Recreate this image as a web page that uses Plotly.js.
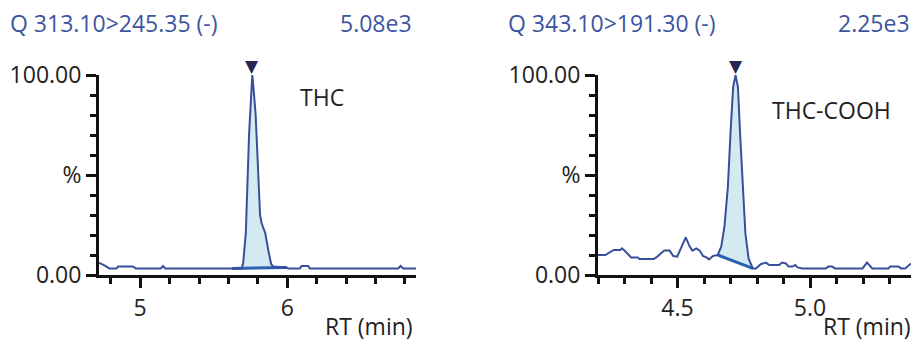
<!DOCTYPE html>
<html>
<head>
<meta charset="utf-8">
<script src="https://cdn.plot.ly/plotly-3.0.1.min.js"></script>
<style>html,body{margin:0;padding:0;background:#fff;}#chart{width:911px;height:343px;}</style>
</head>
<body>
<div id="chart"></div>
<script>
// ---- Data: THC channel (Q 313.10>245.35) ----
var thcTime = [4.72, 4.73, 4.76, 4.79, 4.84, 4.85, 4.95, 4.97, 5.14, 5.155, 5.17, 5.625, 5.69, 5.70, 5.718, 5.74, 5.752, 5.762, 5.772, 5.785, 5.80, 5.815, 5.825, 5.85, 5.872, 5.89, 5.905, 5.995, 6.006, 6.086, 6.097, 6.142, 6.153, 6.754, 6.77, 6.788, 6.89];
var thcIntensity = [6.0, 5.8, 4.7, 3.3, 3.3, 4.3, 4.3, 3.3, 3.3, 4.5, 3.3, 3.3, 3.3, 5.8, 21, 70, 91, 100, 92, 80, 55, 30, 26, 21, 12, 5.5, 4.2, 3.8, 3.3, 3.3, 4.5, 4.5, 3.3, 3.3, 4.5, 3.3, 3.3];
var thcBaseTime = [5.625, 5.995];
var thcBaseIntensity = [3.3, 3.8];
var thcApex = 5.762;

// ---- Data: THC-COOH channel (Q 343.10>191.30) ----
var coohTime = [4.2, 4.209, 4.228, 4.259, 4.284, 4.29, 4.30, 4.325, 4.35, 4.356, 4.41, 4.42, 4.44, 4.45, 4.47, 4.484, 4.499, 4.515, 4.531, 4.546, 4.556, 4.571, 4.584, 4.596, 4.609, 4.619, 4.634, 4.652, 4.665, 4.677, 4.69, 4.70, 4.71, 4.719, 4.728, 4.736, 4.746, 4.756, 4.768, 4.784, 4.796, 4.815, 4.834, 4.846, 4.884, 4.894, 4.909, 4.919, 4.934, 4.944, 4.953, 4.971, 5.059, 5.069, 5.084, 5.094, 5.198, 5.215, 5.235, 5.296, 5.303, 5.334, 5.344, 5.359, 5.381];
var coohIntensity = [10, 10, 10, 12.5, 12.5, 13.3, 12.2, 8.8, 8.8, 8, 8, 8.8, 10.8, 12.2, 12.2, 9.5, 9.2, 14.2, 18.8, 14.2, 12.2, 13.3, 12.2, 9.5, 8.8, 7.8, 9.5, 10, 14.2, 24, 44, 71, 94, 100, 94, 71, 44, 21, 8.3, 3.3, 3.3, 5.5, 6.2, 5, 5, 6.2, 5.8, 4.2, 4.2, 5, 3.8, 3.3, 3.3, 4.2, 4.2, 3.3, 3.3, 6.2, 3.3, 3.3, 4.2, 4.2, 3.3, 3.3, 5.8];
var coohBaseTime = [4.652, 4.784];
var coohBaseIntensity = [10, 3.3];
var coohApex = 4.719;

// ---- Text ----
var leftChannel = "Q 313.10>245.35 (-)", leftScale = "5.08e3", leftCompound = "THC";
var rightChannel = "Q 343.10>191.30 (-)", rightScale = "2.25e3", rightCompound = "THC-COOH";
var yTickVals = [0, 50, 100], yTickText = ["0.00", "%", "100.00"];
var leftXTicks = [5, 6], leftXText = ["5", "6"];
var rightXTicks = [4.5, 5.0], rightXText = ["4.5", "5.0"];
var xTitle = "RT (min)";
var apexSymbol = "▼";

// ---- Styles ----
var LINE = "#3a4f9b", FILL = "#d4eaf1", BASE = "#2b5fb0", APEX = "#23264f";
var TITLEC = "#3c55a0", TEXTC = "#222222", FONT = "Open Sans, Noto Sans, sans-serif";
var FS = 23;

function fillPoly(t, v, bt, bv) {
  var xs = [], ys = [];
  for (var i = 0; i < t.length; i++) {
    if (t[i] >= bt[0] && t[i] <= bt[1]) { xs.push(t[i]); ys.push(v[i]); }
  }
  for (var j = bt.length - 1; j >= 0; j--) { xs.push(bt[j]); ys.push(bv[j]); }
  return {x: xs, y: ys};
}

function makeTraces(t, v, bt, bv, xa, ya) {
  var p = fillPoly(t, v, bt, bv);
  return [
    {x: p.x, y: p.y, xaxis: xa, yaxis: ya, type: "scatter", mode: "lines", fill: "toself", fillcolor: FILL, line: {width: 0}, hoverinfo: "skip", cliponaxis: false},
    {x: bt, y: bv, xaxis: xa, yaxis: ya, type: "scatter", mode: "lines", line: {color: BASE, width: 3}, cliponaxis: false},
    {x: t, y: v, xaxis: xa, yaxis: ya, type: "scatter", mode: "lines", line: {color: LINE, width: 2}, cliponaxis: false}
  ];
}

var data = [].concat(
  makeTraces(thcTime, thcIntensity, thcBaseTime, thcBaseIntensity, "x", "y"),
  makeTraces(coohTime, coohIntensity, coohBaseTime, coohBaseIntensity, "x2", "y2")
);

function xax(domain, range, tv, tt, mdt, anchor) {
  return {domain: domain, range: range, anchor: anchor, tickmode: "array", tickvals: tv, ticktext: tt,
    showline: true, linecolor: "#111", linewidth: 3, ticks: "outside", ticklen: 10, tickwidth: 3, tickcolor: "#111",
    showgrid: false, zeroline: false, tickfont: {family: FONT, size: FS, color: TEXTC},
    minor: {dtick: mdt, tick0: 0, ticks: "outside", ticklen: 6, tickwidth: 3, tickcolor: "#111", showgrid: false}};
}
function yax(domain, anchor) {
  return {domain: domain, range: [0, 100], anchor: anchor, tickmode: "array", tickvals: yTickVals, ticktext: yTickText,
    showline: true, linecolor: "#111", linewidth: 3, ticks: "outside", ticklen: 10, tickwidth: 3, tickcolor: "#111",
    showgrid: false, zeroline: false, tickfont: {family: FONT, size: FS, color: TEXTC},
    minor: {dtick: 10, tick0: 0, ticks: "outside", ticklen: 6, tickwidth: 3, tickcolor: "#111", showgrid: false}};
}

var W = 911, H = 343;
function px(x) { return x / W; }
function py(y) { return 1 - y / H; }
var yDom = [py(275), py(75)];

function ann(text, x, y, xanchor, color, size) {
  return {text: text, xref: "paper", yref: "paper", x: px(x), y: py(y), xanchor: xanchor, yanchor: "middle",
    showarrow: false, font: {family: FONT, size: size, color: color}};
}
function apexAnn(xv, xr, yr) {
  return {text: apexSymbol, xref: xr, yref: yr, x: xv, y: 100, xanchor: "center", yanchor: "bottom", yshift: -3,
    showarrow: false, font: {family: "DejaVu Sans", size: 17, color: APEX}};
}

var layout = {
  width: W, height: H, margin: {l: 0, r: 0, t: 0, b: 0},
  paper_bgcolor: "#fff", plot_bgcolor: "#fff", showlegend: false,
  xaxis: xax([px(99), px(416)], [4.72, 6.875], leftXTicks, leftXText, 0.2, "y"),
  yaxis: yax(yDom, "x"),
  xaxis2: xax([px(598), 1], [4.2, 5.381], rightXTicks, rightXText, 0.1, "y2"),
  yaxis2: yax(yDom, "x2"),
  annotations: [
    ann(leftChannel, 8, 23, "left", TITLEC, FS),
    ann(leftScale, 414, 23, "right", TITLEC, FS),
    ann(rightChannel, 506, 23, "left", TITLEC, FS),
    ann(rightScale, 912, 23, "right", TITLEC, FS),
    ann(leftCompound, 298, 97, "left", TEXTC, FS),
    ann(rightCompound, 770, 110, "left", TEXTC, FS),
    ann(xTitle, 415, 326, "right", TEXTC, FS),
    ann(xTitle, 913, 326, "right", TEXTC, FS),
    apexAnn(thcApex, "x", "y"),
    apexAnn(coohApex, "x2", "y2")
  ]
};

Plotly.newPlot("chart", data, layout, {staticPlot: true, displayModeBar: false});
</script>
</body>
</html>
